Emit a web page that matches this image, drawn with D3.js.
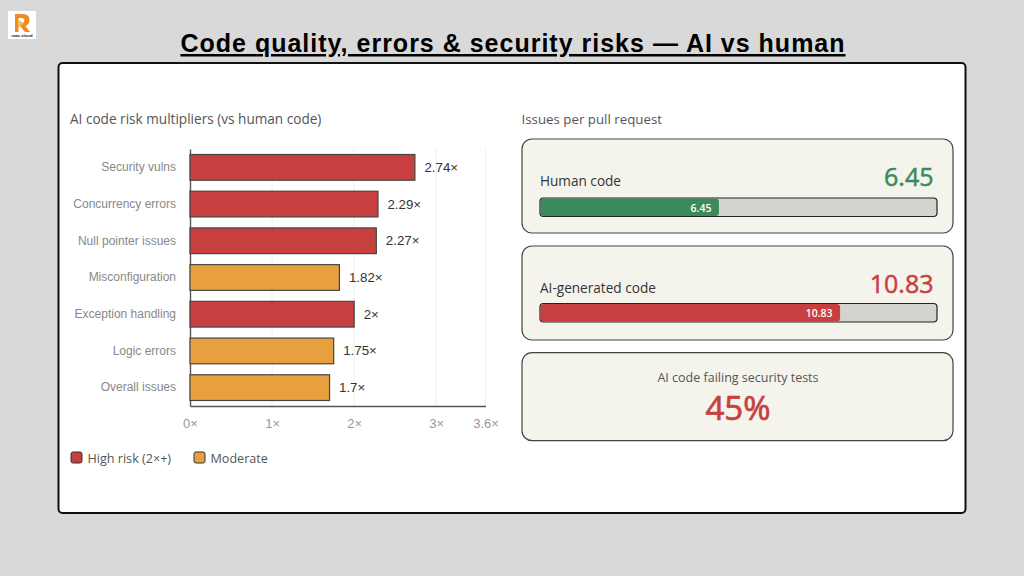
<!DOCTYPE html>
<html>
<head>
<meta charset="utf-8">
<script src="https://cdn.jsdelivr.net/npm/d3@7"></script>
<style>
  html, body { margin: 0; padding: 0; background: #d9d9d9; overflow: hidden; }
  svg { display: block; }
  .ui { font-family: "Open Sans", "Noto Sans", sans-serif; }
  .arial { font-family: "Liberation Sans", Arial, sans-serif; }
</style>
</head>
<body>
<div id="chart"></div>
<script>
const categories = ['Security vulns', 'Concurrency errors', 'Null pointer issues', 'Misconfiguration', 'Exception handling', 'Logic errors', 'Overall issues'];
const multipliers = [2.74, 2.29, 2.27, 1.82, 2, 1.75, 1.7];
const riskLevels = ['high', 'high', 'high', 'moderate', 'high', 'moderate', 'moderate'];
const tickValues = [0, 1, 2, 3, 3.6];
const legendLabels = ['High risk (2×+)', 'Moderate'];
const prLabels = ['Human code', 'AI-generated code'];
const prValues = [6.45, 10.83];

const red = '#c83f3f', orange = '#e8a03f', green = '#3a8a5a';
const cardFill = '#f4f3ec', trackFill = '#d5d3cd';

const svg = d3.select('#chart').append('svg').attr('width', 1024).attr('height', 576);
svg.append('rect').attr('width', 1024).attr('height', 576).attr('fill', '#d9d9d9');

// Logo
const logo = svg.append('g').attr('transform', 'translate(8,11)');
logo.append('rect').attr('width', 28).attr('height', 28).attr('fill', '#fff');
logo.append('path').attr('d', 'M7 3 H15 Q21.5 3 21.5 9 Q21.5 13.5 17.5 15 L22 21 H17 L12.5 15.5 L16.5 10 Q16.5 7 13.5 7 H10.5 V21 H7 Z').attr('fill', '#f08a24');
logo.append('path').attr('d', 'M10.5 8.5 L15.5 12.5 L10.5 17 Z').attr('fill', '#fbc02d');
logo.append('text').attr('class', 'arial').attr('x', 14).attr('y', 26).attr('text-anchor', 'middle')
    .attr('font-size', 4.2).attr('font-weight', 700).attr('fill', '#222').text('raas cloud');

// Title
svg.append('text').attr('class', 'arial')
    .attr('x', 513).attr('y', 52).attr('text-anchor', 'middle')
    .attr('font-size', 25).attr('font-weight', 700).attr('letter-spacing', 1)
    .attr('text-decoration', 'underline').attr('fill', '#000')
    .text('Code quality, errors & security risks — AI vs human');

// Main panel
svg.append('rect').attr('x', 58.5).attr('y', 63).attr('width', 907).attr('height', 450).attr('rx', 4)
    .attr('fill', '#fff').attr('stroke', '#111').attr('stroke-width', 2);

svg.append('text').attr('class', 'ui').attr('x', 70).attr('y', 124)
    .attr('font-size', 13.6).attr('fill', '#555').text('AI code risk multipliers (vs human code)');
svg.append('text').attr('class', 'ui').attr('x', 521.5).attr('y', 124)
    .attr('font-size', 13.3).attr('fill', '#555').text('Issues per pull request');

// Bar chart
const x = d3.scaleLinear().domain([0, 3.6]).range([190, 485.5]);
const y = d3.scaleBand().domain(categories).range([149, 406]).paddingInner(0.3).paddingOuter(0.15);
const riskColor = d3.scaleOrdinal().domain(['high', 'moderate']).range([red, orange]);

svg.append('g').selectAll('line').data(tickValues.slice(1)).join('line')
    .attr('x1', d => x(d)).attr('x2', d => x(d)).attr('y1', 149).attr('y2', 406)
    .attr('stroke', '#eeeeee').attr('stroke-width', 1);

const xAxis = svg.append('g').attr('class', 'arial').attr('transform', 'translate(0,406)')
    .call(d3.axisBottom(x).tickValues(tickValues).tickSize(0).tickPadding(13).tickFormat(d => d + '×'));
xAxis.select('.domain').attr('stroke', '#555').attr('stroke-width', 1.6);
xAxis.selectAll('text').attr('font-size', 13).attr('fill', '#999');

const yAxis = svg.append('g').attr('class', 'arial').attr('transform', 'translate(190,0)')
    .call(d3.axisLeft(y).tickSize(0).tickPadding(14));
yAxis.select('.domain').attr('stroke', '#555').attr('stroke-width', 1.4);
yAxis.selectAll('text').attr('font-size', 12).attr('fill', '#888');

svg.append('g').selectAll('rect').data(categories).join('rect')
    .attr('x', x(0)).attr('y', d => y(d))
    .attr('width', (d, i) => x(multipliers[i]) - x(0)).attr('height', y.bandwidth())
    .attr('fill', (d, i) => riskColor(riskLevels[i]))
    .attr('stroke', '#444').attr('stroke-width', 1.2);

svg.append('g').selectAll('text').data(categories).join('text')
    .attr('class', 'arial')
    .attr('x', (d, i) => x(multipliers[i]) + 9.5).attr('y', d => y(d) + y.bandwidth() / 2 + 4.5)
    .attr('font-size', 13.3).attr('fill', '#333')
    .text((d, i) => multipliers[i] + '×');

// Legend
const legendX = d3.scaleOrdinal().domain(legendLabels).range([71, 194]);
const legend = svg.append('g').selectAll('g').data(legendLabels).join('g')
    .attr('transform', d => `translate(${legendX(d)},452)`);
legend.append('rect').attr('width', 11).attr('height', 11).attr('rx', 2)
    .attr('fill', (d, i) => [red, orange][i]).attr('stroke', '#333').attr('stroke-width', 1);
legend.append('text').attr('class', 'ui').attr('x', 16.5).attr('y', 11)
    .attr('font-size', 12.6).attr('fill', '#555').text(d => d);

// Pull request cards
const prColors = [green, red];
const prTops = [139, 246];
const prBarTops = [198, 303.5];
const prX = d3.scaleLinear().domain([0, 14.35]).range([540, 937]);
const card = (top, h) => svg.append('rect').attr('x', 522).attr('y', top).attr('width', 431).attr('height', h)
    .attr('rx', 10).attr('fill', cardFill).attr('stroke', '#444').attr('stroke-width', 1.2);

prLabels.forEach((label, i) => {
    const top = prTops[i];
    card(top, 94);
    svg.append('text').attr('class', 'ui').attr('x', 540).attr('y', top + 46.5)
        .attr('font-size', 13.6).attr('fill', '#333').text(label);
    svg.append('text').attr('class', 'ui').attr('x', 933.5).attr('y', top + 47)
        .attr('text-anchor', 'end').attr('font-size', 25).attr('font-weight', 400)
        .attr('stroke', prColors[i]).attr('stroke-width', 0.5)
        .attr('fill', prColors[i]).text(prValues[i]);
    const barTop = prBarTops[i];
    svg.append('rect').attr('x', prX(0)).attr('y', barTop).attr('width', prX.range()[1] - prX(0)).attr('height', 18.5)
        .attr('rx', 3.5).attr('fill', trackFill).attr('stroke', '#222').attr('stroke-width', 1.2);
    svg.append('rect').attr('x', prX(0) + 0.5).attr('y', barTop + 0.5).attr('width', prX(prValues[i]) - prX(0)).attr('height', 17.5)
        .attr('rx', 3.5).attr('fill', prColors[i]);
    svg.append('text').attr('class', 'ui').attr('x', prX(prValues[i]) - 7).attr('y', barTop + 13.5)
        .attr('text-anchor', 'end').attr('font-size', 10.5).attr('font-weight', 600)
        .attr('fill', '#fff').text(prValues[i]);
});

// Security card
card(352.7, 88);
svg.append('text').attr('class', 'ui').attr('x', 738).attr('y', 382)
    .attr('text-anchor', 'middle').attr('font-size', 12.5).attr('fill', '#555').text('AI code failing security tests');
svg.append('text').attr('class', 'ui').attr('x', 738).attr('y', 420)
    .attr('text-anchor', 'middle').attr('font-size', 33).attr('font-weight', 400)
    .attr('stroke', red).attr('stroke-width', 0.7).attr('fill', red).text('45%');
</script>
</body>
</html>
